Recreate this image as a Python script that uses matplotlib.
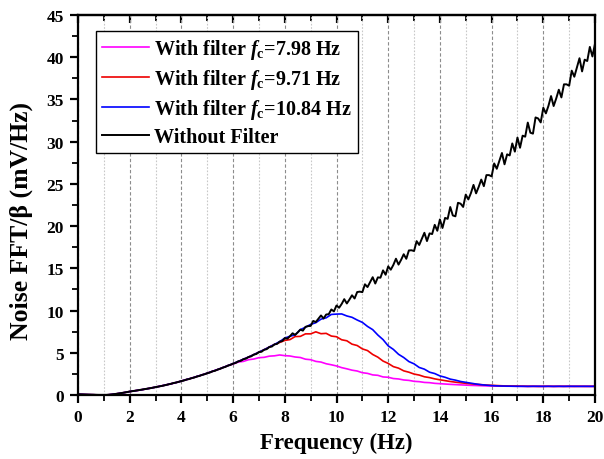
import numpy as np
import matplotlib
matplotlib.use('Agg')
import matplotlib.pyplot as plt
from matplotlib.ticker import MultipleLocator

# ---------------- data ----------------
# Without filter, sampled every 0.1 Hz from 0 to 20 Hz
without_filter = [
    0.08, 0.07, 0.06, 0.05, 0.04, 0.03, 0.03, 0.02, 0.01, 0.01,
    0.00, 0.01, 0.03, 0.06, 0.10, 0.14, 0.19, 0.24, 0.29, 0.35,
    0.41, 0.45, 0.50, 0.55, 0.59, 0.65, 0.70, 0.75, 0.81, 0.87,
    0.93, 0.98, 1.06, 1.11, 1.19, 1.26, 1.33, 1.42, 1.48, 1.57,
    1.65, 1.72, 1.83, 1.89, 2.00, 2.07, 2.19, 2.26, 2.38, 2.46,
    2.58, 2.66, 2.80, 2.87, 3.01, 3.10, 3.24, 3.33, 3.48, 3.57,
    3.72, 3.80, 3.98, 4.05, 4.24, 4.31, 4.50, 4.58, 4.78, 4.86,
    5.08, 5.12, 5.36, 5.43, 5.68, 5.74, 5.99, 6.05, 6.32, 6.38,
    6.74, 6.67, 6.96, 7.31, 7.12, 7.41, 7.74, 7.62, 8.07, 8.16,
    8.18, 8.77, 8.64, 9.03, 9.42, 9.06, 9.53, 9.57, 10.13, 9.90,
    10.60, 10.33, 10.78, 11.35, 10.84, 11.30, 11.81, 11.43, 12.19, 12.24,
    12.18, 13.11, 12.78, 13.36, 13.95, 13.20, 13.93, 13.89, 14.76, 14.24,
    15.23, 14.84, 15.41, 16.14, 15.44, 16.01, 16.67, 16.13, 17.12, 17.14,
    17.05, 18.22, 17.77, 18.49, 19.21, 18.23, 19.14, 19.06, 20.15, 19.45,
    20.79, 19.78, 20.97, 20.86, 22.26, 21.26, 21.16, 22.76, 22.66, 22.27,
    23.73, 23.16, 23.91, 24.88, 23.88, 24.64, 25.51, 24.73, 26.04, 26.04,
    25.89, 27.42, 26.79, 27.73, 28.66, 27.32, 28.50, 28.37, 29.79, 28.82,
    30.49, 29.28, 30.71, 30.59, 32.26, 31.06, 30.95, 32.87, 32.75, 32.28,
    34.02, 33.35, 34.25, 35.40, 34.22, 35.12, 36.15, 35.24, 36.79, 36.79,
    36.62, 38.41, 37.69, 38.79, 39.88, 38.32, 39.71, 39.55, 41.22, 40.09,
    41.60,
]
freq_fine = np.arange(len(without_filter)) * 0.1

# Filtered curves, sampled every 0.2 Hz; below the knee they follow the unfiltered curve
shared_low = without_filter[::2]

filt_798_tail = [  # from 6.0 Hz
    3.66, 3.90, 3.98, 4.18, 4.26, 4.42, 4.46, 4.60, 4.64, 4.74,
    4.66, 4.62, 4.50, 4.44, 4.24, 4.18, 3.98, 3.90, 3.70, 3.58,
    3.44, 3.24, 3.10, 2.94, 2.84, 2.64, 2.56, 2.38, 2.33, 2.14,
    2.10, 1.95, 1.90, 1.78, 1.73, 1.62, 1.58, 1.49, 1.46, 1.38,
    1.34, 1.30, 1.26, 1.23, 1.20, 1.17, 1.14, 1.12, 1.10, 1.08,
    1.07, 1.06, 1.05, 1.04, 1.04, 1.03, 1.03, 1.02, 1.03, 1.02,
    1.02, 1.03, 1.02, 1.02, 1.03, 1.02, 1.02, 1.03, 1.02, 1.02,
    1.02,
]
filt_971_tail = [  # from 7.8 Hz
    6.22, 6.46, 6.56, 6.92, 6.94, 7.24, 7.24, 7.48, 7.26, 7.30,
    6.98, 6.90, 6.54, 6.42, 6.02, 5.86, 5.46, 5.26, 4.80, 4.48,
    4.02, 3.74, 3.36, 3.18, 2.86, 2.70, 2.48, 2.36, 2.16, 2.06,
    1.91, 1.80, 1.70, 1.60, 1.52, 1.45, 1.38, 1.32, 1.27, 1.22,
    1.18, 1.15, 1.12, 1.09, 1.07, 1.06, 1.05, 1.04, 1.03, 1.03,
    1.02, 1.03, 1.03, 1.02, 1.03, 1.02, 1.03, 1.02, 1.03, 1.02,
    1.03, 1.02,
]
filt_1084_tail = [  # from 8.8 Hz
    8.02, 8.36, 8.56, 8.98, 9.14, 9.54, 9.58, 9.60, 9.36, 9.20,
    8.88, 8.60, 8.12, 7.74, 7.10, 6.56, 5.82, 5.40, 4.82, 4.44,
    3.96, 3.69, 3.26, 3.06, 2.70, 2.54, 2.26, 2.10, 1.88, 1.76,
    1.60, 1.50, 1.40, 1.30, 1.22, 1.16, 1.11, 1.08, 1.06, 1.05,
    1.04, 1.03, 1.03, 1.02, 1.03, 1.03, 1.02, 1.03, 1.02, 1.03,
    1.02, 1.03, 1.03, 1.02, 1.03, 1.02, 1.03,
]
filt_798 = shared_low[:30] + filt_798_tail
filt_971 = shared_low[:39] + filt_971_tail
filt_1084 = shared_low[:44] + filt_1084_tail

labels = [r'With filter $\mathit{f}_\mathrm{c}$=7.98 Hz',
          r'With filter $\mathit{f}_\mathrm{c}$=9.71 Hz',
          r'With filter $\mathit{f}_\mathrm{c}$=10.84 Hz',
          'Without Filter']
colors = ['#FF00FF', '#EE0000', '#0000FF', '#000000']
xlabel = 'Frequency (Hz)'
ylabel = 'Noise FFT/β (mV/Hz)'

# ---------------- style ----------------
plt.rcParams['font.family'] = ['Liberation Serif', 'DejaVu Serif']
plt.rcParams['font.weight'] = 'bold'
plt.rcParams['mathtext.fontset'] = 'custom'
plt.rcParams['mathtext.rm'] = 'Liberation Serif:bold'
plt.rcParams['mathtext.it'] = 'Liberation Serif:italic:bold'
plt.rcParams['mathtext.bf'] = 'Liberation Serif:bold'

fig = plt.figure(figsize=(6.04, 4.60), dpi=100)
ax = fig.add_axes([78/604, 1-396/460, 517/604, 380/460])

for y, c, lab in zip([filt_798, filt_971, filt_1084], colors[:3], labels[:3]):
    ax.plot(np.arange(len(y)) * 0.2, y, color=c, lw=1.2, label=lab)
ax.plot(freq_fine, without_filter, color=colors[3], lw=1.4, label=labels[3])

ax.set_xlim(0, 20)
ax.set_ylim(0, 45)
ax.xaxis.set_major_locator(MultipleLocator(2))
ax.xaxis.set_minor_locator(MultipleLocator(1))
ax.yaxis.set_major_locator(MultipleLocator(5))
ax.yaxis.set_minor_locator(MultipleLocator(2.5))

ax.grid(True, which='major', axis='x', color='#8c8c8c', ls=(0, (3, 2)), lw=0.8)
ax.grid(True, which='minor', axis='x', color='#c8c8c8', ls=(0, (1.5, 1.5)), lw=0.8)
ax.set_axisbelow(True)

for s in ax.spines.values():
    s.set_linewidth(1.6)

ax.tick_params(which='major', direction='out', length=6, width=1.6, labelsize=12.5, pad=4)
ax.tick_params(which='minor', direction='out', length=4, width=1.3)
ax.tick_params(top=False, right=False)
for lab in ax.get_xticklabels() + ax.get_yticklabels():
    lab.set_fontweight('bold')

sec = ax.secondary_xaxis('top')
sec.xaxis.set_major_locator(MultipleLocator(2))
sec.xaxis.set_minor_locator(MultipleLocator(1))
sec.tick_params(which='major', direction='in', length=6, width=1.6, labeltop=False)
sec.tick_params(which='minor', direction='in', length=4, width=1.3)
sec.spines['top'].set_linewidth(1.6)

ax.set_xlabel(xlabel, fontsize=16.5, fontweight='bold', labelpad=5)
ax.set_ylabel(ylabel, fontsize=18.5, fontweight='bold')
ax.yaxis.set_label_coords(-0.087, 0.46)

leg = ax.legend(loc='upper left', bbox_to_anchor=(0.035, 0.958), borderaxespad=0,
                fancybox=False, framealpha=1, edgecolor='black',
                prop={'size': 14.5, 'weight': 'bold'},
                handlelength=2.35, handletextpad=0.25, labelspacing=0.3,
                borderpad=0.3)
leg.get_frame().set_linewidth(1.0)

fig.savefig('out.png', dpi=100)
